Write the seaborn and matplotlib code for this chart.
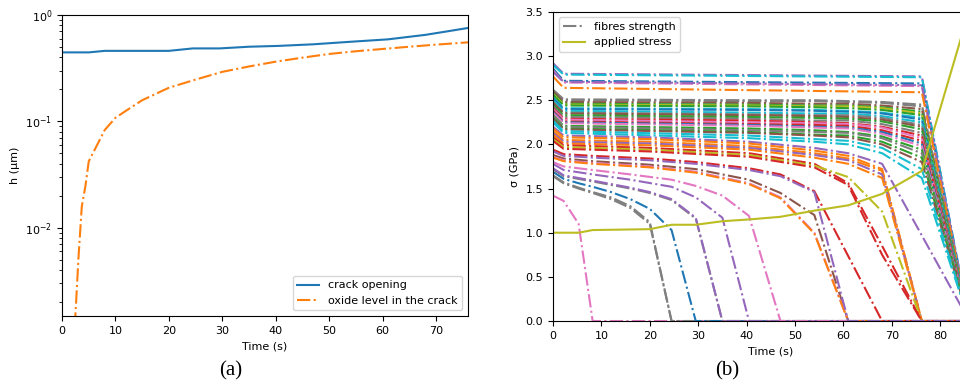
import matplotlib
matplotlib.use("Agg")
import matplotlib.pyplot as plt
import seaborn as sns

# ---------------- data: panel (a) ----------------
crack_t = [0, 5, 8, 20, 24.5, 29.5, 35, 40.5, 47, 54, 61, 68, 72, 76]
crack_h = [0.445, 0.445, 0.46, 0.46, 0.485, 0.485, 0.503, 0.512, 0.53, 0.56, 0.59, 0.65, 0.70, 0.755]

oxide_t = [2.4, 3.1, 3.7, 4.4, 5.0, 8, 10, 12, 15, 20, 25, 30, 35, 40, 45, 50, 55, 60, 65, 70, 76]
oxide_h = [0.0012, 0.0054, 0.0158, 0.025, 0.042, 0.083, 0.108, 0.126, 0.158, 0.207, 0.247,
           0.292, 0.328, 0.364, 0.397, 0.43, 0.456, 0.479, 0.503, 0.526, 0.553]

# ---------------- data: panel (b) ----------------
stress_t = [0, 5.3, 8.2, 20, 24.5, 29.5, 35, 40.5, 47, 54, 61, 68, 76.2, 86]
stress_v = [1.0, 1.0, 1.03, 1.04, 1.09, 1.09, 1.13, 1.15, 1.18, 1.25, 1.31, 1.44, 1.70, 3.52]

# each fibre: time points, strength values (GPa), tab10 colour index
fibre_t = [
    # strongest fibres
    [0, 2.2, 76.2, 86], [0, 2.2, 76.2, 86], [0, 2.2, 76.2, 86],
    [0, 2.2, 76.2, 86], [0, 2.2, 76.2, 86], [0, 2.2, 76.2, 86],
    # middle band
    *[[0, 2.2, 40.5, 54, 61, 68, 76.2, 86]] * 24,
    # band 1.95 - 2.10
    [0, 2.2, 20, 40.5, 54, 61, 68, 86],
    *[[0, 2.2, 20, 40.5, 54, 61, 68, 76.2, 86]] * 7,
    # weak fibres
    [0, 2.2, 5.3, 8.2, 86],
    [0, 2.2, 5.3, 8.2, 12, 16, 20, 24.5, 86],
    [0, 2.2, 5.3, 8.2, 12, 16, 20, 24.5, 86],
    [0, 2.2, 5.3, 8.2, 12, 16, 20, 24.5, 29.5, 86],
    [0, 2.2, 8.2, 16, 20, 24.5, 29.5, 35, 86],
    [0, 2.2, 8.2, 16, 20, 24.5, 29.5, 35, 86],
    [0, 2.2, 8.2, 16, 24.5, 29.5, 35, 40.5, 86],
    [0, 2.2, 8.2, 16, 24.5, 29.5, 35, 40.5, 47, 86],
    [0, 2.2, 8.2, 20, 29.5, 40.5, 47, 54, 61, 86],
    [0, 2.2, 8.2, 20, 29.5, 40.5, 47, 54, 61, 86],
    [0, 2.2, 8.2, 20, 29.5, 40.5, 47, 54, 61, 86],
    [0, 2.2, 8.2, 20, 29.5, 40.5, 47, 54, 68, 86],
    [0, 2.2, 8.2, 20, 29.5, 40.5, 47, 54, 61, 86],
]
fibre_v = [
    [2.92, 2.80, 2.77, 0], [2.90, 2.79, 2.76, 0], [2.86, 2.72, 2.69, 0],
    [2.84, 2.70, 2.66, 0], [2.82, 2.71, 2.67, 0], [2.77, 2.64, 2.59, 0],
    [2.62, 2.51, 2.50, 2.50, 2.49, 2.48, 2.45, 0],
    [2.61, 2.50, 2.49, 2.49, 2.48, 2.47, 2.43, 0],
    [2.60, 2.48, 2.47, 2.46, 2.46, 2.44, 2.40, 0],
    [2.58, 2.46, 2.45, 2.44, 2.44, 2.42, 2.37, 0],
    [2.57, 2.45, 2.44, 2.43, 2.43, 2.41, 2.35, 0],
    [2.56, 2.44, 2.43, 2.42, 2.41, 2.39, 2.33, 0],
    [2.53, 2.41, 2.40, 2.39, 2.38, 2.36, 2.30, 0],
    [2.52, 2.40, 2.39, 2.38, 2.37, 2.35, 2.28, 0],
    [2.50, 2.38, 2.36, 2.35, 2.35, 2.32, 2.25, 0],
    [2.48, 2.36, 2.34, 2.33, 2.33, 2.30, 2.22, 0],
    [2.47, 2.35, 2.33, 2.32, 2.31, 2.28, 2.20, 0],
    [2.45, 2.33, 2.31, 2.30, 2.29, 2.26, 2.17, 0],
    [2.43, 2.31, 2.29, 2.27, 2.27, 2.23, 2.13, 0],
    [2.41, 2.29, 2.27, 2.25, 2.24, 2.20, 2.10, 0],
    [2.40, 2.28, 2.25, 2.24, 2.23, 2.19, 2.07, 0],
    [2.38, 2.26, 2.23, 2.22, 2.21, 2.16, 2.04, 0],
    [2.37, 2.25, 2.22, 2.20, 2.19, 2.14, 2.01, 0],
    [2.36, 2.24, 2.21, 2.19, 2.18, 2.12, 1.98, 0],
    [2.33, 2.21, 2.18, 2.16, 2.14, 2.09, 1.94, 0],
    [2.32, 2.20, 2.16, 2.14, 2.13, 2.07, 1.90, 0],
    [2.30, 2.18, 2.14, 2.11, 2.10, 2.03, 1.85, 0],
    [2.29, 2.17, 2.13, 2.10, 2.08, 2.00, 1.80, 0],
    [2.27, 2.15, 2.10, 2.06, 2.04, 1.96, 1.72, 0],
    [2.25, 2.13, 2.07, 2.03, 2.00, 1.90, 1.62, 0],
    [2.20, 2.10, 2.08, 2.03, 1.96, 1.90, 1.78, 0.0],
    [2.18, 2.08, 2.06, 2.01, 1.93, 1.87, 1.72, 0, 0],
    [2.15, 2.05, 2.03, 1.98, 1.90, 1.84, 1.70, 0, 0],
    [2.13, 2.03, 2.01, 1.96, 1.88, 1.82, 1.66, 0, 0],
    [2.11, 2.01, 1.99, 1.94, 1.85, 1.78, 1.62, 0, 0],
    [2.08, 1.99, 1.96, 1.90, 1.78, 1.56, 0.85, 0, 0],
    [2.06, 1.97, 1.94, 1.88, 1.76, 1.63, 1.24, 0, 0],
    [2.04, 1.95, 1.92, 1.86, 1.74, 1.54, 0.75, 0, 0],
    [1.42, 1.36, 1.10, 0, 0],
    [1.65, 1.57, 1.51, 1.46, 1.40, 1.30, 1.12, 0, 0],
    [1.64, 1.56, 1.50, 1.45, 1.38, 1.28, 1.10, 0, 0],
    [1.69, 1.61, 1.56, 1.52, 1.46, 1.38, 1.27, 1.03, 0, 0],
    [1.72, 1.64, 1.58, 1.50, 1.45, 1.37, 1.16, 0, 0],
    [1.73, 1.65, 1.59, 1.51, 1.46, 1.38, 1.17, 0, 0],
    [1.78, 1.71, 1.66, 1.60, 1.52, 1.40, 1.17, 0, 0],
    [1.80, 1.75, 1.71, 1.66, 1.60, 1.53, 1.42, 1.19, 0, 0],
    [1.88, 1.84, 1.81, 1.77, 1.72, 1.60, 1.45, 1.20, 0, 0],
    [1.86, 1.82, 1.79, 1.75, 1.69, 1.56, 1.40, 1.00, 0, 0],
    [1.85, 1.81, 1.78, 1.74, 1.68, 1.55, 1.39, 0.99, 0, 0],
    [1.94, 1.89, 1.87, 1.84, 1.80, 1.73, 1.66, 1.47, 0, 0],
    [1.92, 1.87, 1.85, 1.82, 1.78, 1.71, 1.64, 1.46, 0, 0],
]
fibre_colour = [
    4, 9, 0, 6, 4, 1,
    7, 7, 5, 2, 8, 2, 9, 0, 9, 7, 5, 2, 7, 3, 6, 3, 0, 6, 2, 7, 2, 5, 9, 9,
    4, 1, 1, 4, 1, 3, 8, 3,
    6, 7, 7, 0, 7, 4, 4, 6, 5, 6, 1, 3, 4,
]

# ---------------- figure ----------------
pal = sns.color_palette("tab10")
plt.rcParams["font.family"] = ["DejaVu Sans"]
plt.rcParams["font.size"] = 8
plt.rcParams["mathtext.fontset"] = "dejavusans"

fig = plt.figure(figsize=(9.6, 3.84), dpi=100)
fig.patch.set_facecolor("white")

# panel (a)
ax1 = fig.add_axes([0.0646, 0.177, 0.4229, 0.784])
sns.lineplot(x=crack_t, y=crack_h, ax=ax1, color=pal[0], lw=1.5,
             sort=False, estimator=None, label="crack opening")
sns.lineplot(x=oxide_t, y=oxide_h, ax=ax1, color=pal[1], lw=1.5, linestyle="-.",
             sort=False, estimator=None, label="oxide level in the crack")
ax1.set_yscale("log")
ax1.set_xlim(0, 76)
ax1.set_ylim(1.48e-3, 1.0)
ax1.set_xticks([0, 10, 20, 30, 40, 50, 60, 70])
ax1.set_xlabel("Time (s)", fontsize=8)
ax1.set_ylabel("h (μm)", fontsize=8)
ax1.tick_params(labelsize=8)
ax1.legend(loc="lower right", fontsize=8)

# panel (b)
ax2 = fig.add_axes([0.576, 0.164, 0.4538, 0.805])
labelled = False
for t, v, c in zip(fibre_t, fibre_v, fibre_colour):
    lab = None
    if c == 7 and not labelled:
        lab = "fibres strength"
        labelled = True
    sns.lineplot(x=t, y=v, ax=ax2, color=pal[c], lw=1.5, linestyle="-.",
                 sort=False, estimator=None, label=lab, legend=False)
sns.lineplot(x=stress_t, y=stress_v, ax=ax2, color=pal[8], lw=1.5,
             sort=False, estimator=None, label="applied stress", legend=False)
ax2.set_xlim(0, 90)
ax2.set_ylim(0, 3.5)
ax2.set_xticks([0, 10, 20, 30, 40, 50, 60, 70, 80])
ax2.set_yticks([0.0, 0.5, 1.0, 1.5, 2.0, 2.5, 3.0, 3.5])
ax2.set_xlabel("Time (s)", fontsize=8)
ax2.set_ylabel("σ (GPa)", fontsize=8)
ax2.tick_params(labelsize=8)
h, l = ax2.get_legend_handles_labels()
ax2.legend(h, l, loc="upper left", fontsize=8)

fig.text(0.240, 0.035, "(a)", fontsize=15, family=["Liberation Serif"], ha="center", va="center")
fig.text(0.757, 0.035, "(b)", fontsize=15, family=["Liberation Serif"], ha="center", va="center")

fig.savefig("out.png", dpi=100)
